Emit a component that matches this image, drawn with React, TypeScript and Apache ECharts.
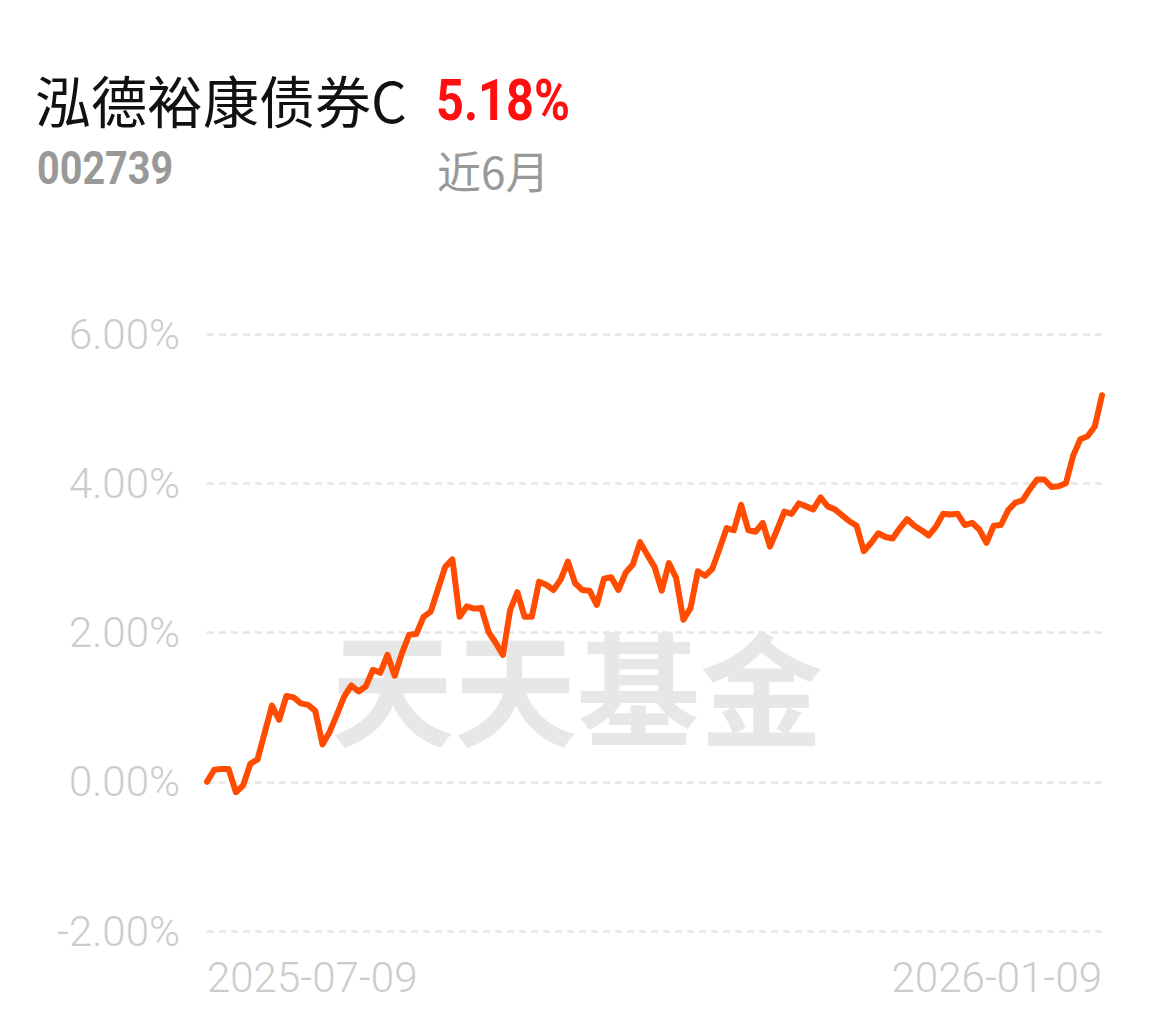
import React, { useEffect, useRef } from "react";
import * as echarts from "echarts";

const fundName = "泓德裕康债券C";
const fundCode = "002739";
const periodReturn = "5.18%";
const periodLabel = "近6月";
const watermark = "天天基金";

const xTickLabels = ["2025-07-09", "2026-01-09"];
const yTicks = { min: -2, max: 6, interval: 2 };

const returns = [
  0.0, 0.16, 0.17, 0.17, -0.14, -0.05, 0.24, 0.3, 0.66, 1.02,
  0.83, 1.15, 1.13, 1.05, 1.03, 0.95, 0.5, 0.67, 0.9, 1.14,
  1.29, 1.21, 1.28, 1.5, 1.46, 1.7, 1.42, 1.72, 1.97, 1.98,
  2.21, 2.28, 2.58, 2.88, 2.98, 2.21, 2.35, 2.32, 2.33, 2.01,
  1.86, 1.7, 2.3, 2.54, 2.21, 2.21, 2.68, 2.64, 2.57, 2.71,
  2.95, 2.66, 2.57, 2.56, 2.37, 2.72, 2.74, 2.57, 2.8, 2.91,
  3.21, 3.04, 2.88, 2.56, 2.93, 2.73, 2.17, 2.33, 2.82, 2.76,
  2.85, 3.12, 3.4, 3.37, 3.71, 3.37, 3.35, 3.47, 3.15, 3.38,
  3.62, 3.59, 3.73, 3.69, 3.65, 3.81, 3.69, 3.65, 3.57, 3.49,
  3.43, 3.09, 3.2, 3.33, 3.28, 3.26, 3.4, 3.52, 3.43, 3.37,
  3.3, 3.42, 3.59, 3.58, 3.59, 3.44, 3.47, 3.38, 3.2, 3.43,
  3.44, 3.64, 3.74, 3.77, 3.92, 4.05, 4.05, 3.95, 3.96, 4.0,
  4.37, 4.59, 4.63, 4.76, 5.18,
];

const categories = returns.map((_, i) => String(i));

export default function App() {
  const ref = useRef<HTMLDivElement>(null);

  useEffect(() => {
    document.body.style.margin = "0";
    const chart = echarts.init(ref.current!, null, { renderer: "svg" });
    const last = categories.length - 1;
    chart.setOption({
      animation: false,
      backgroundColor: "#ffffff",
      grid: { left: 207, right: 53, top: 334, bottom: 91, containLabel: false },
      graphic: [
        {
          type: "text",
          z: -10,
          x: 331,
          y: 683,
          silent: true,
          style: {
            text: watermark,
            fontSize: 123,
            fontWeight: 700,
            fontFamily: "Noto Sans CJK SC",
            fill: "#e7e7e7",
            verticalAlign: "middle",
          },
        },
        {
          type: "text",
          x: 35,
          y: 98,
          style: {
            text: fundName,
            fontSize: 56,
            fontFamily: "Noto Sans CJK SC",
            fill: "#111111",
            verticalAlign: "middle",
          },
        },
        {
          type: "text",
          x: 436,
          y: 100,
          scaleX: 0.84,
          style: {
            text: periodReturn,
            fontSize: 58,
            fontWeight: "bold",
            fontFamily: "Roboto",
            fill: "#ff1010",
            verticalAlign: "middle",
          },
        },
        {
          type: "text",
          x: 37,
          y: 168,
          scaleX: 0.86,
          style: {
            text: fundCode,
            fontSize: 46,
            fontWeight: "bold",
            fontFamily: "Roboto",
            fill: "#999999",
            verticalAlign: "middle",
          },
        },
        {
          type: "text",
          x: 437,
          y: 170,
          style: {
            text: periodLabel,
            fontSize: 44,
            fontFamily: "Noto Sans CJK SC",
            fill: "#999999",
            verticalAlign: "middle",
          },
        },
      ],
      xAxis: {
        type: "category",
        boundaryGap: false,
        data: categories,
        axisLine: { show: false },
        axisTick: { show: false },
        splitLine: { show: false },
        axisLabel: {
          interval: (idx: number) => idx === 0 || idx === last,
          formatter: (_v: string, idx: number) =>
            idx === 0 ? xTickLabels[0] : idx === last ? xTickLabels[1] : "",
          alignMinLabel: "left",
          alignMaxLabel: "right",
          color: "#cccccc",
          fontSize: 42,
          fontWeight: 300,
          fontFamily: "Roboto",
          margin: 25,
          showMinLabel: true,
          showMaxLabel: true,
        },
      },
      yAxis: {
        type: "value",
        min: yTicks.min,
        max: yTicks.max,
        interval: yTicks.interval,
        axisLine: { show: false },
        axisTick: { show: false },
        axisLabel: {
          formatter: (v: number) => v.toFixed(2) + "%",
          color: "#cccccc",
          fontSize: 42,
          fontWeight: 300,
          fontFamily: "Roboto",
          margin: 27,
        },
        splitLine: {
          show: true,
          lineStyle: { color: "#e6e6e6", width: 2.5, type: [7, 5] },
        },
      },
      series: [
        {
          type: "line",
          data: returns,
          showSymbol: false,
          symbol: "none",
          smooth: false,
          z: 5,
          lineStyle: { color: "#ff4c00", width: 6, join: "round", cap: "round" },
        },
      ],
    });
    return () => chart.dispose();
  }, []);

  return (
    <div
      ref={ref}
      style={{ position: "absolute", left: 0, top: 0, width: 1155, height: 1022 }}
    />
  );
}
